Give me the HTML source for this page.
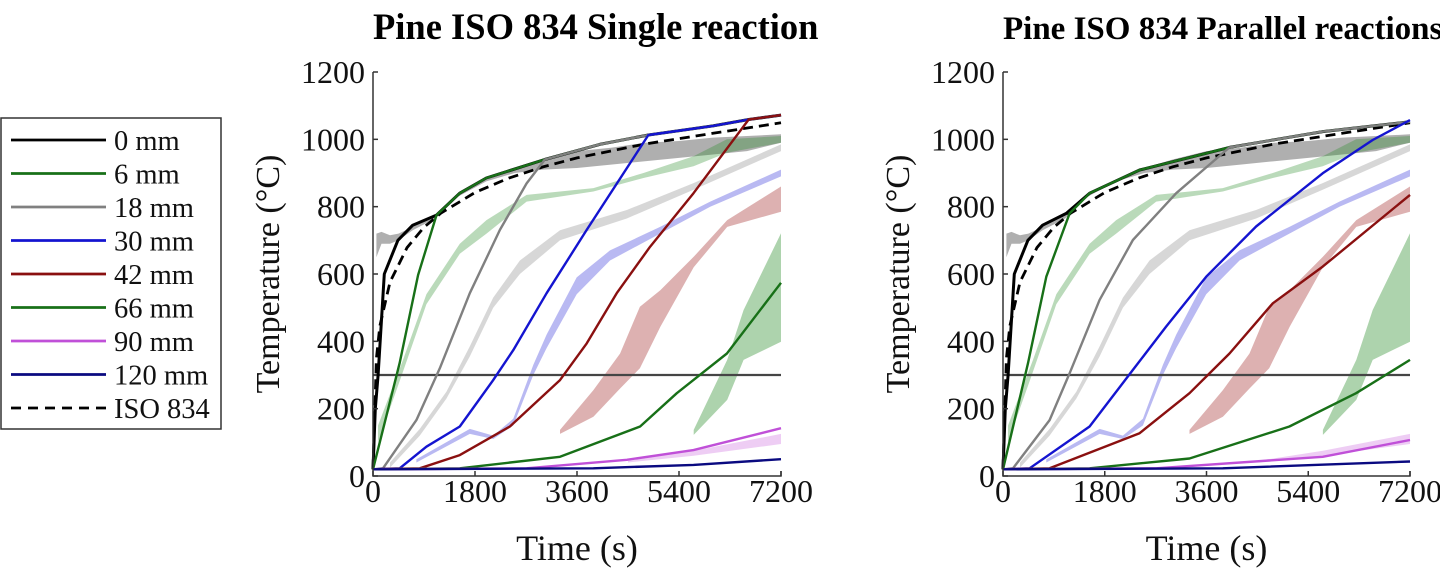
<!DOCTYPE html>
<html><head><meta charset="utf-8"><style>
body{margin:0;background:#fff;overflow:hidden;}
svg{display:block;font-family:"Liberation Serif",serif;}
</style></head><body>
<svg id="chart" width="1440" height="568" viewBox="0 0 1440 568"></svg>
<script>
// ---- data ----
const seriesNames = ["0 mm","6 mm","18 mm","30 mm","42 mm","66 mm","90 mm","120 mm"];
const seriesColors = ["#000000","#187018","#808080","#1414d0","#8a1010","#187018","#c050d8","#0a0a80"];
const xTicks = [0,1800,3600,5400,7200];
const yTicks = [0,200,400,600,800,1000,1200];
const isoT = [0,60,120,300,600,900,1200,1800,2400,3000,3600,4800,6000,7200];
const isoV = [20,349,445,576,678,739,781,842,885,918,945,986,1018,1049];
// left plot (single reaction)
const L_t = [
 [0,40,90,200,440,700,1120,1530,2000,3030,4000,4860,6000,6630,7200],
 [0,470,795,1120],
 [0,177,766,1178,1709,2239,2710,3034],
 [0,471,943,1532,2121,2475,3064,3771,4860],
 [0,825,1532,2416,3300,3771,4301,4890,5656,6630,7200],
 [0,1532,3300,4714,5362,6246,7200],
 [0,2710,4478,5656,7200],
 [0,3889,5656,7200]];
const L_v = [
 [20,200,300,600,700,745,775,840,885,940,985,1013,1040,1059,1072],
 [20,335,597,775],
 [20,23,166,320,543,731,869,940],
 [20,23,87,147,285,374,543,731,1013],
 [20,23,62,147,285,394,543,681,840,1059,1072],
 [20,23,57,147,246,364,574],
 [20,23,48,77,142],
 [20,23,33,50]];
// right plot (parallel reactions)
const R_t = [
 [0,40,90,200,440,700,1120,1532,2416,4007,5656,7200],
 [0,442,766,1178],
 [0,177,825,1178,1709,2298,3064,4007],
 [0,471,1532,2298,2887,3594,4478,5656,6540,7200],
 [0,825,2416,3300,4007,4773,5656,7200],
 [0,1532,3300,5067,6246,7200],
 [0,2710,5656,7200],
 [0,3889,7200]];
const R_v = [
 [20,200,300,600,700,745,780,840,909,976,1023,1052],
 [20,335,592,780],
 [20,23,166,305,523,701,840,976],
 [20,23,147,315,444,592,741,899,998,1057],
 [20,23,127,246,364,513,622,835],
 [20,23,52,147,246,345],
 [20,23,57,107],
 [20,23,43]];
// experimental bands (shared)
const bandColors = ["rgba(110,110,110,0.55)","rgba(40,140,40,0.32)","rgba(150,150,150,0.38)","rgba(70,70,220,0.38)","rgba(170,60,60,0.4)","rgba(40,140,40,0.38)","rgba(200,90,220,0.3)"];
const bandT = [
 [60,150,300,450,700,1100,1500,2000,2500,3000,3600,4200,4800,5400,6000,6600,7200],
 [88,530,943,1532,2003,2710,3889,4773,5656,6246,7200],
 [300,825,1296,1709,2121,2592,3300,4478,5656,7200],
 [766,1709,2121,2475,2828,3064,3594,4183,5067,5951,7200],
 [3300,3890,4360,4710,5070,5660,6250,7200],
 [5660,6250,6540,7200],
 [4500,5660,7200]];
const bandHi = [
 [720,725,715,720,740,775,835,880,915,940,965,975,990,995,1005,1010,1015],
 [150,345,540,690,760,835,855,900,950,1000,1010],
 [40,140,250,385,530,640,730,790,870,985],
 [50,140,120,170,330,420,590,670,740,815,910],
 [137,255,364,503,552,651,760,860],
 [137,345,493,721],
 [45,75,125]];
const bandLo = [
 [650,690,690,700,730,765,830,875,900,910,915,925,935,945,955,965,990],
 [100,310,510,660,720,815,845,885,920,960,990],
 [25,120,230,355,500,600,700,765,850,965],
 [40,125,110,150,300,380,540,640,720,800,890],
 [125,176,260,320,443,620,740,785],
 [122,226,345,399],
 [40,60,95]];

const NS="http://www.w3.org/2000/svg";
const svg=document.getElementById('chart');
function mk(tag,attrs,parent){const e=document.createElementNS(NS,tag);for(const k in attrs)e.setAttribute(k,attrs[k]);(parent||svg).appendChild(e);return e;}

function drawPlot(x0,x1,title,titleSize,T,V,pname){
 const y0=476,y1=72;
 const sx=t=>x0+(t/7200)*(x1-x0);
 const sy=v=>y0-(v/1200)*(y0-y1);
 const g=mk('g',{});
 
 
 for(let i=0;i<bandT.length;i++){
  let d='';
  bandT[i].forEach((t,j)=>{d+=(j?'L':'M')+sx(t).toFixed(1)+','+sy(bandHi[i][j]).toFixed(1);});
  for(let j=bandT[i].length-1;j>=0;j--)d+='L'+sx(bandT[i][j]).toFixed(1)+','+sy(bandLo[i][j]).toFixed(1);
  const p=mk('path',{d:d+'Z',fill:bandColors[i],stroke:'none'},g);
  
  
 }
 const h=mk('line',{x1:x0,x2:x1,y1:sy(300),y2:sy(300),stroke:'#454545','stroke-width':2.2},g);
 
 
 let d='';isoT.forEach((t,j)=>{d+=(j?'L':'M')+sx(t).toFixed(1)+','+sy(isoV[j]).toFixed(1);});
 const iso=mk('path',{d:d,fill:'none',stroke:'#000','stroke-width':2.8,'stroke-dasharray':'10,6'},g);
 
 
 const env=[T[0],V[0]];
 for(let i=0;i<T.length;i++){
  const ts=T[i].slice(),vs=V[i].slice();
  if(i>0&&i<5){const last=ts[ts.length-1];env[0].forEach((t,j)=>{if(t>last){ts.push(t);vs.push(env[1][j]);}});}
  let d='';ts.forEach((t,j)=>{d+=(j?'L':'M')+sx(t).toFixed(1)+','+sy(vs[j]).toFixed(1);});
  const p=mk('path',{d:d,fill:'none',stroke:seriesColors[i],'stroke-width':i==0?3:2.4,'stroke-linejoin':'round'},g);
  
  
 }
 const ax=mk('path',{d:`M${x0},${y1}L${x0},${y0}L${x1},${y0}L${x1},${y0-5}`,fill:'none',stroke:'#333','stroke-width':1.5},g);
 
 
 yTicks.forEach(v=>{
  mk('line',{x1:x0,x2:x0+5,y1:sy(v),y2:sy(v),stroke:'#333','stroke-width':1.5},g);
  const tx=mk('text',{x:x0-8,y:sy(v)+11,'text-anchor':'end','font-size':32,fill:'#111'},g);
  tx.textContent=v;
  
  
 });
 xTicks.forEach(t=>{
  mk('line',{x1:sx(t),x2:sx(t),y1:y0,y2:y0-5,stroke:'#333','stroke-width':1.5},g);
  const tx=mk('text',{x:sx(t),y:y0+26,'text-anchor':'middle','font-size':32,fill:'#111'},g);
  tx.textContent=t;
  
  
 });
 const xt=mk('text',{x:(x0+x1)/2,y:560,'text-anchor':'middle','font-size':36,fill:'#111'},g);
 xt.textContent='Time (s)';
 
 
 const yt=mk('text',{x:0,y:0,'text-anchor':'middle','font-size':34,fill:'#111',transform:`translate(${x0-94},${(y0+y1)/2}) rotate(-90)`},g);
 yt.textContent='Temperature (°C)';
 
 
 const tt=mk('text',{x:x0,y:39,'text-anchor':'start','font-size':titleSize,'font-weight':'bold',fill:'#000'},g);
 tt.textContent=title;
 
 
}
drawPlot(373,781,'Pine ISO 834 Single reaction',36.5,L_t,L_v,'single-reaction-plot');
drawPlot(1003,1410,'Pine ISO 834 Parallel reactions',33,R_t,R_v,'parallel-reactions-plot');

const lg=mk('g',{});


mk('rect',{x:1,y:118,width:220,height:311,fill:'#fff',stroke:'#333','stroke-width':1.5},lg);
const names=seriesNames.concat(['ISO 834']);
names.forEach((n,i)=>{
 const y=140+i*33.5;
 const ln=mk('line',{x1:11,x2:106,y1:y,y2:y,stroke:i<8?seriesColors[i]:'#000','stroke-width':2.8},lg);
 if(i==8)ln.setAttribute('stroke-dasharray','10,7');
 const tx=mk('text',{x:114,y:y+10,'font-size':28.5,fill:'#111'},lg);
 tx.textContent=n;
 
 
});
</script>
</body></html>
